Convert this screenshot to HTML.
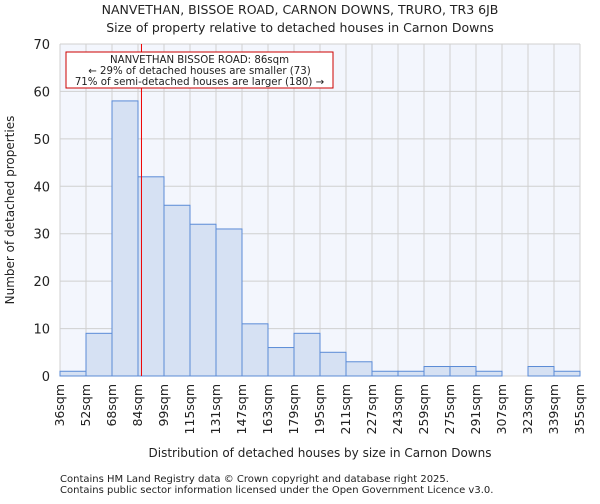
<!DOCTYPE html>
<html><head><meta charset="utf-8"><style>
body{margin:0;background:#fff;font-family:"DejaVu Sans","Liberation Sans",sans-serif}
svg text{font-family:"DejaVu Sans","Liberation Sans",sans-serif;fill:#222}
</style></head><body>
<svg id="c" width="600" height="500">
<text x="300" y="14" text-anchor="middle" font-size="12.5">NANVETHAN, BISSOE ROAD, CARNON DOWNS, TRURO, TR3 6JB</text>
<text x="300" y="32" text-anchor="middle" font-size="12.5">Size of property relative to detached houses in Carnon Downs</text>
<rect x="60" y="44" width="520" height="332" fill="#f3f6fd"/>
<g id="grid"></g><g id="bars"></g><g id="ticks"></g>
<text transform="translate(14,210) rotate(-90)" text-anchor="middle" font-size="12">Number of detached properties</text>
<text x="320" y="457" text-anchor="middle" font-size="12">Distribution of detached houses by size in Carnon Downs</text>
<text x="60" y="482" font-size="10" fill="#555">Contains HM Land Registry data © Crown copyright and database right 2025.</text>
<text x="60" y="493" font-size="10" fill="#555">Contains public sector information licensed under the Open Government Licence v3.0.</text>
</svg>
<script>
const categories=["36sqm","52sqm","68sqm","84sqm","99sqm","115sqm","131sqm","147sqm","163sqm","179sqm","195sqm","211sqm","227sqm","243sqm","259sqm","275sqm","291sqm","307sqm","323sqm","339sqm","355sqm"];
const counts=[1,9,58,42,36,32,31,11,6,9,5,3,1,1,2,2,1,0,2,1];
const yTicks=[0,10,20,30,40,50,60,70];
const binStarts=[36,52,68,84,99,115,131,147,163,179,195,211,227,243,259,275,291,307,323,339,355];
const propertySize=86;
const NS="http://www.w3.org/2000/svg";
const x0=60,x1=580,y0=376,y1=44,n=counts.length,bw=(x1-x0)/n;
const xi=i=>x0+i*bw;
const y=v=>y0-(v/70)*(y0-y1);
function mk(t,a,p){const e=document.createElementNS(NS,t);for(const k in a)e.setAttribute(k,a[k]);p.appendChild(e);return e;}
const g=document.getElementById('grid'),b=document.getElementById('bars'),tk=document.getElementById('ticks');
yTicks.forEach(v=>{const l=mk('line',{x1:x0,x2:x1,y1:y(v),y2:y(v),stroke:'#d0d0d0'},g);


const t=mk('text',{x:50,y:y(v)+5,'text-anchor':'end','font-size':13},tk);t.textContent=v;

});
categories.forEach((c,i)=>{const l=mk('line',{x1:xi(i),x2:xi(i),y1:y1,y2:y0,stroke:'#d0d0d0'},g);


const t=mk('text',{transform:`translate(${xi(i)+4},384) rotate(-90)`,'text-anchor':'end','font-size':12.5},tk);t.textContent=c;

});
counts.forEach((v,i)=>{if(v<=0)return;const r=mk('rect',{x:xi(i),y:y(v),width:bw,height:y0-y(v),fill:'#d6e1f3',stroke:'#5b8bd6','stroke-width':1},b);

});
let k=0;while(k<binStarts.length-2&&binStarts[k+1]<=propertySize)k++;
const mx=xi(k)+(propertySize-binStarts[k])/(binStarts[k+1]-binStarts[k])*bw;
const ml=mk('line',{x1:mx,x2:mx,y1:y1,y2:y0,stroke:'#ee0000','stroke-width':1},b);


const box=mk('rect',{x:66,y:52,width:267,height:36,fill:'#fff',stroke:'#cc0000','stroke-width':1},b);


["NANVETHAN BISSOE ROAD: 86sqm","← 29% of detached houses are smaller (73)","71% of semi-detached houses are larger (180) →"].forEach((s,i)=>{const t=mk('text',{x:199.5,y:63+i*11,'text-anchor':'middle','font-size':10.2},b);t.textContent=s;

});
</script>
</body></html>
